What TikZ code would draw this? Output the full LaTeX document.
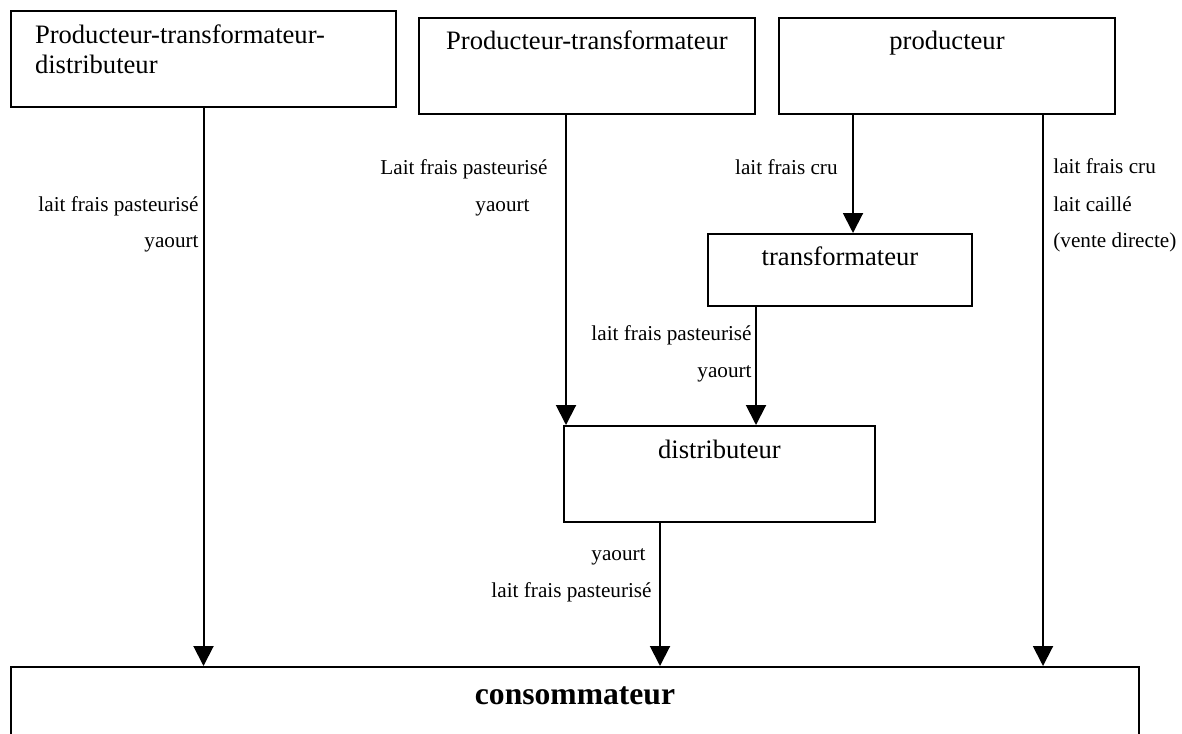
\documentclass[tikz,border=0pt]{standalone}
\usepackage{fontspec}
\setmainfont{Liberation Serif}
\usepackage{tikz}
\usetikzlibrary{arrows.meta,calc}

\tikzset{
    bloc/.style={draw, line width=1pt, rectangle, anchor=north west, inner xsep=0pt, inner ysep=0pt, text height=16pt, text depth=32pt, font=\fontsize{13.3}{15}\selectfont},
    fleche/.style={-{Triangle[width=10pt,length=10pt]}, line width=1pt},
    etiq/.style={font=\fontsize{10.6}{12}\selectfont, inner sep=0pt}
}

\begin{document}
\begin{tikzpicture}[x=0.5pt,y=-0.5pt]
    \useasboundingbox (0,0) rectangle (1182,733);
    \clip (0,0) rectangle (1182,733);

    \node[bloc, minimum width=192.5pt, text width=168.5pt, align=left, text height=16.5pt, text depth=31.5pt] (ptd) at (10,10) {Producteur-transformateur-\\distributeur};
    \node[bloc, minimum width=168pt] (pt) at (418,17) {Producteur-transformateur};
    \node[bloc, minimum width=168pt] (prod) at (778,17) {producteur};
    \node[bloc, minimum width=132pt, text height=15.5pt, text depth=20.5pt] (trans) at (707,233) {transformateur};
    \node[bloc, minimum width=155.5pt] (dist) at (563,425) {distributeur};
    \node[bloc, minimum width=564pt, text height=18.5pt, text depth=40pt, font=\fontsize{15.8}{18}\selectfont\bfseries] (cons) at (10,666) {consommateur};

    \coordinate (a1) at ([xshift=-10.5pt]pt.south);
    \coordinate (p0) at ([xshift=-47pt]prod.south);
    \coordinate (p1) at ([xshift=48pt]prod.south);
    \coordinate (t1) at ([xshift=-42pt]trans.south);
    \coordinate (d1) at ([xshift=-29.75pt]dist.south);

    \draw[fleche] (ptd.south) -- (ptd.south |- cons.north);
    \draw[fleche] (a1) -- (a1 |- dist.north);
    \draw[fleche] (p0) -- (p0 |- trans.north);
    \draw[fleche] (p1) -- (p1 |- cons.north);
    \draw[fleche] (t1) -- (t1 |- dist.north);
    \draw[fleche] (d1) -- (d1 |- cons.north);

    \node[etiq, anchor=base east] (e1a) at (199,211) {lait frais pasteurisé};
    \node[etiq, anchor=base east] (e1b) at (199,247) {yaourt};
    \node[etiq, anchor=base east] (e2a) at (548,174) {Lait frais pasteurisé};
    \node[etiq, anchor=base east] (e2b) at (530,211) {yaourt};
    \node[etiq, anchor=base east] (e3) at (838,174) {lait frais cru};
    \node[etiq, anchor=base west] (e4a) at (1053,173) {lait frais cru};
    \node[etiq, anchor=base west] (e4b) at (1053,211) {lait caillé};
    \node[etiq, anchor=base west] (e4c) at (1053,247) {(vente directe)};
    \node[etiq, anchor=base east] (e5a) at (752,340) {lait frais pasteurisé};
    \node[etiq, anchor=base east] (e5b) at (752,377) {yaourt};
    \node[etiq, anchor=base east] (e6a) at (646,560) {yaourt};
    \node[etiq, anchor=base east] (e6b) at (652,597) {lait frais pasteurisé};
\end{tikzpicture}
\end{document}
